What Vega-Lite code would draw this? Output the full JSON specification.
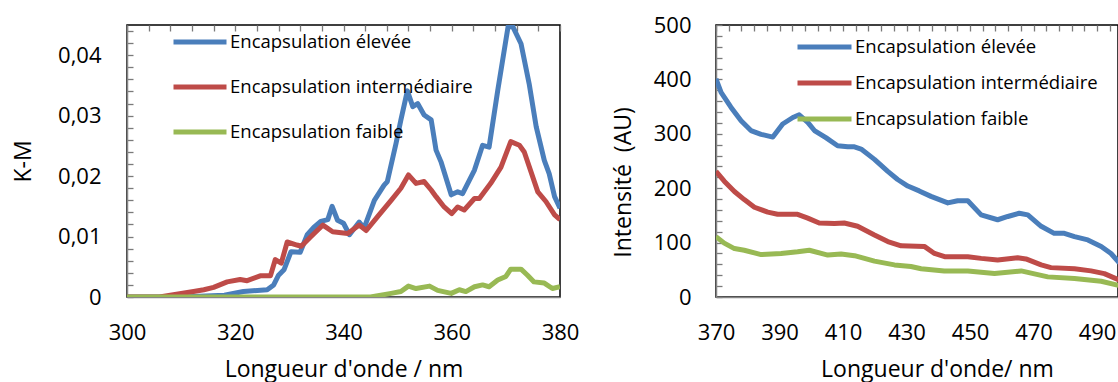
{
  "$schema": "https://vega.github.io/schema/vega-lite/v6.json",
  "padding": {"left": 11, "top": 13, "right": 0, "bottom": 0},
  "bounds": "flush",
  "spacing": 156,
  "config": {
    "font": "Open Sans",
    "view": {"stroke": "black", "strokeWidth": 1.5},
    "axis": {
      "grid": true,
      "gridColor": "#7A7A7A",
      "gridWidth": 1.3,
      "gridDash": [6, 2000],
      "gridOpacity": 1,
      "ticks": false,
      "domainColor": "#868686",
      "domainWidth": 1.5,
      "labelColor": "black",
      "labelFontSize": 22,
      "titleFontSize": 23,
      "titleFontWeight": "normal",
      "titleColor": "black",
      "labelOverlap": false,
      "labelBound": false,
      "labelFlush": false,
      "zindex": 1
    },
    "legend": {
      "orient": "none",
      "symbolType": "stroke",
      "symbolStrokeWidth": 5,
      "labelFontSize": 18.5,
      "labelColor": "black",
      "labelOffset": 1,
      "labelLimit": 400,
      "clipHeight": 20,
      "padding": 0
    }
  },
  "resolve": {"scale": {"color": "independent"}, "legend": {"color": "independent"}},
  "datasets": {
    "left": [
      {"nm": 300, "v": 0, "s": "Encapsulation élevée"},
      {"nm": 310, "v": 0, "s": "Encapsulation élevée"},
      {"nm": 318, "v": 0.0003, "s": "Encapsulation élevée"},
      {"nm": 321.5, "v": 0.0009, "s": "Encapsulation élevée"},
      {"nm": 325.9, "v": 0.0012, "s": "Encapsulation élevée"},
      {"nm": 327.1, "v": 0.002, "s": "Encapsulation élevée"},
      {"nm": 328, "v": 0.0036, "s": "Encapsulation élevée"},
      {"nm": 329, "v": 0.0045, "s": "Encapsulation élevée"},
      {"nm": 330.3, "v": 0.0075, "s": "Encapsulation élevée"},
      {"nm": 332, "v": 0.0074, "s": "Encapsulation élevée"},
      {"nm": 333.3, "v": 0.0103, "s": "Encapsulation élevée"},
      {"nm": 334.5, "v": 0.0115, "s": "Encapsulation élevée"},
      {"nm": 335.8, "v": 0.0125, "s": "Encapsulation élevée"},
      {"nm": 337.1, "v": 0.0128, "s": "Encapsulation élevée"},
      {"nm": 337.9, "v": 0.015, "s": "Encapsulation élevée"},
      {"nm": 338.9, "v": 0.0127, "s": "Encapsulation élevée"},
      {"nm": 340, "v": 0.0122, "s": "Encapsulation élevée"},
      {"nm": 341.1, "v": 0.0103, "s": "Encapsulation élevée"},
      {"nm": 342.9, "v": 0.0124, "s": "Encapsulation élevée"},
      {"nm": 343.8, "v": 0.0114, "s": "Encapsulation élevée"},
      {"nm": 345.7, "v": 0.016, "s": "Encapsulation élevée"},
      {"nm": 347.5, "v": 0.0185, "s": "Encapsulation élevée"},
      {"nm": 348.1, "v": 0.0191, "s": "Encapsulation élevée"},
      {"nm": 349.7, "v": 0.0254, "s": "Encapsulation élevée"},
      {"nm": 350.6, "v": 0.0293, "s": "Encapsulation élevée"},
      {"nm": 351.8, "v": 0.0341, "s": "Encapsulation élevée"},
      {"nm": 352.8, "v": 0.0315, "s": "Encapsulation élevée"},
      {"nm": 353.7, "v": 0.032, "s": "Encapsulation élevée"},
      {"nm": 354.9, "v": 0.0301, "s": "Encapsulation élevée"},
      {"nm": 356.2, "v": 0.0293, "s": "Encapsulation élevée"},
      {"nm": 357.1, "v": 0.0243, "s": "Encapsulation élevée"},
      {"nm": 358, "v": 0.0224, "s": "Encapsulation élevée"},
      {"nm": 359.9, "v": 0.0169, "s": "Encapsulation élevée"},
      {"nm": 361.1, "v": 0.0174, "s": "Encapsulation élevée"},
      {"nm": 362, "v": 0.0171, "s": "Encapsulation élevée"},
      {"nm": 364.2, "v": 0.021, "s": "Encapsulation élevée"},
      {"nm": 365.7, "v": 0.0251, "s": "Encapsulation élevée"},
      {"nm": 366.9, "v": 0.0248, "s": "Encapsulation élevée"},
      {"nm": 368.5, "v": 0.0342, "s": "Encapsulation élevée"},
      {"nm": 370.4, "v": 0.0447, "s": "Encapsulation élevée"},
      {"nm": 371.3, "v": 0.0447, "s": "Encapsulation élevée"},
      {"nm": 372.8, "v": 0.0419, "s": "Encapsulation élevée"},
      {"nm": 374.3, "v": 0.0353, "s": "Encapsulation élevée"},
      {"nm": 375.6, "v": 0.0282, "s": "Encapsulation élevée"},
      {"nm": 377.1, "v": 0.0226, "s": "Encapsulation élevée"},
      {"nm": 378, "v": 0.0204, "s": "Encapsulation élevée"},
      {"nm": 379, "v": 0.0166, "s": "Encapsulation élevée"},
      {"nm": 380, "v": 0.0147, "s": "Encapsulation élevée"},
      {"nm": 300, "v": 0, "s": "Encapsulation intermédiaire"},
      {"nm": 306, "v": 0, "s": "Encapsulation intermédiaire"},
      {"nm": 308, "v": 0.0003, "s": "Encapsulation intermédiaire"},
      {"nm": 312.3, "v": 0.0009, "s": "Encapsulation intermédiaire"},
      {"nm": 314.2, "v": 0.0012, "s": "Encapsulation intermédiaire"},
      {"nm": 316, "v": 0.0016, "s": "Encapsulation intermédiaire"},
      {"nm": 318.5, "v": 0.0025, "s": "Encapsulation intermédiaire"},
      {"nm": 320.9, "v": 0.0029, "s": "Encapsulation intermédiaire"},
      {"nm": 322.2, "v": 0.0027, "s": "Encapsulation intermédiaire"},
      {"nm": 324.6, "v": 0.0035, "s": "Encapsulation intermédiaire"},
      {"nm": 326.5, "v": 0.0035, "s": "Encapsulation intermédiaire"},
      {"nm": 327.4, "v": 0.0062, "s": "Encapsulation intermédiaire"},
      {"nm": 328.5, "v": 0.0056, "s": "Encapsulation intermédiaire"},
      {"nm": 329.6, "v": 0.0091, "s": "Encapsulation intermédiaire"},
      {"nm": 331.4, "v": 0.0086, "s": "Encapsulation intermédiaire"},
      {"nm": 332.2, "v": 0.0084, "s": "Encapsulation intermédiaire"},
      {"nm": 334, "v": 0.01, "s": "Encapsulation intermédiaire"},
      {"nm": 336.2, "v": 0.0119, "s": "Encapsulation intermédiaire"},
      {"nm": 338, "v": 0.0108, "s": "Encapsulation intermédiaire"},
      {"nm": 340.8, "v": 0.0105, "s": "Encapsulation intermédiaire"},
      {"nm": 342.9, "v": 0.0119, "s": "Encapsulation intermédiaire"},
      {"nm": 344.2, "v": 0.011, "s": "Encapsulation intermédiaire"},
      {"nm": 346.3, "v": 0.0133, "s": "Encapsulation intermédiaire"},
      {"nm": 348.8, "v": 0.016, "s": "Encapsulation intermédiaire"},
      {"nm": 350.6, "v": 0.018, "s": "Encapsulation intermédiaire"},
      {"nm": 352, "v": 0.0202, "s": "Encapsulation intermédiaire"},
      {"nm": 353.4, "v": 0.0188, "s": "Encapsulation intermédiaire"},
      {"nm": 354.9, "v": 0.0191, "s": "Encapsulation intermédiaire"},
      {"nm": 356.2, "v": 0.0177, "s": "Encapsulation intermédiaire"},
      {"nm": 357.1, "v": 0.0166, "s": "Encapsulation intermédiaire"},
      {"nm": 358.6, "v": 0.0149, "s": "Encapsulation intermédiaire"},
      {"nm": 360, "v": 0.0138, "s": "Encapsulation intermédiaire"},
      {"nm": 361.1, "v": 0.0149, "s": "Encapsulation intermédiaire"},
      {"nm": 362.3, "v": 0.0144, "s": "Encapsulation intermédiaire"},
      {"nm": 364.2, "v": 0.0163, "s": "Encapsulation intermédiaire"},
      {"nm": 365.1, "v": 0.0163, "s": "Encapsulation intermédiaire"},
      {"nm": 367.2, "v": 0.0188, "s": "Encapsulation intermédiaire"},
      {"nm": 369.1, "v": 0.0215, "s": "Encapsulation intermédiaire"},
      {"nm": 370.9, "v": 0.0257, "s": "Encapsulation intermédiaire"},
      {"nm": 372.5, "v": 0.0251, "s": "Encapsulation intermédiaire"},
      {"nm": 373.4, "v": 0.024, "s": "Encapsulation intermédiaire"},
      {"nm": 375.9, "v": 0.0174, "s": "Encapsulation intermédiaire"},
      {"nm": 377.4, "v": 0.0158, "s": "Encapsulation intermédiaire"},
      {"nm": 379, "v": 0.0136, "s": "Encapsulation intermédiaire"},
      {"nm": 380, "v": 0.0128, "s": "Encapsulation intermédiaire"},
      {"nm": 300, "v": 0, "s": "Encapsulation faible"},
      {"nm": 345, "v": 0, "s": "Encapsulation faible"},
      {"nm": 348.8, "v": 0.0006, "s": "Encapsulation faible"},
      {"nm": 350.6, "v": 0.0009, "s": "Encapsulation faible"},
      {"nm": 352, "v": 0.0018, "s": "Encapsulation faible"},
      {"nm": 353.4, "v": 0.0014, "s": "Encapsulation faible"},
      {"nm": 355.9, "v": 0.0018, "s": "Encapsulation faible"},
      {"nm": 357.4, "v": 0.0011, "s": "Encapsulation faible"},
      {"nm": 359.9, "v": 0.0006, "s": "Encapsulation faible"},
      {"nm": 361.4, "v": 0.0012, "s": "Encapsulation faible"},
      {"nm": 362.6, "v": 0.0009, "s": "Encapsulation faible"},
      {"nm": 364.2, "v": 0.0017, "s": "Encapsulation faible"},
      {"nm": 365.7, "v": 0.002, "s": "Encapsulation faible"},
      {"nm": 366.9, "v": 0.0017, "s": "Encapsulation faible"},
      {"nm": 368.5, "v": 0.0028, "s": "Encapsulation faible"},
      {"nm": 370, "v": 0.0034, "s": "Encapsulation faible"},
      {"nm": 370.9, "v": 0.0046, "s": "Encapsulation faible"},
      {"nm": 372.8, "v": 0.0046, "s": "Encapsulation faible"},
      {"nm": 374, "v": 0.0036, "s": "Encapsulation faible"},
      {"nm": 375.2, "v": 0.0025, "s": "Encapsulation faible"},
      {"nm": 377.1, "v": 0.0023, "s": "Encapsulation faible"},
      {"nm": 378.6, "v": 0.0014, "s": "Encapsulation faible"},
      {"nm": 380, "v": 0.0017, "s": "Encapsulation faible"}
    ],
    "right": [
      {"nm": 370, "v": 401, "s": "Encapsulation élevée"},
      {"nm": 371.6, "v": 376, "s": "Encapsulation élevée"},
      {"nm": 374.7, "v": 349, "s": "Encapsulation élevée"},
      {"nm": 377.9, "v": 324, "s": "Encapsulation élevée"},
      {"nm": 381, "v": 306, "s": "Encapsulation élevée"},
      {"nm": 384.2, "v": 299, "s": "Encapsulation élevée"},
      {"nm": 387.9, "v": 294, "s": "Encapsulation élevée"},
      {"nm": 391, "v": 318, "s": "Encapsulation élevée"},
      {"nm": 394.2, "v": 330, "s": "Encapsulation élevée"},
      {"nm": 396.2, "v": 335, "s": "Encapsulation élevée"},
      {"nm": 398.9, "v": 321, "s": "Encapsulation élevée"},
      {"nm": 401, "v": 306, "s": "Encapsulation élevée"},
      {"nm": 404.6, "v": 293, "s": "Encapsulation élevée"},
      {"nm": 408.3, "v": 278, "s": "Encapsulation élevée"},
      {"nm": 411.5, "v": 276, "s": "Encapsulation élevée"},
      {"nm": 413.6, "v": 276, "s": "Encapsulation élevée"},
      {"nm": 415.7, "v": 272, "s": "Encapsulation élevée"},
      {"nm": 419.9, "v": 253, "s": "Encapsulation élevée"},
      {"nm": 424.1, "v": 231, "s": "Encapsulation élevée"},
      {"nm": 427.2, "v": 216, "s": "Encapsulation élevée"},
      {"nm": 430.4, "v": 204, "s": "Encapsulation élevée"},
      {"nm": 434, "v": 195, "s": "Encapsulation élevée"},
      {"nm": 437.7, "v": 185, "s": "Encapsulation élevée"},
      {"nm": 443, "v": 173, "s": "Encapsulation élevée"},
      {"nm": 446.1, "v": 177, "s": "Encapsulation élevée"},
      {"nm": 449.3, "v": 177, "s": "Encapsulation élevée"},
      {"nm": 453.5, "v": 151, "s": "Encapsulation élevée"},
      {"nm": 458.7, "v": 142, "s": "Encapsulation élevée"},
      {"nm": 461.9, "v": 148, "s": "Encapsulation élevée"},
      {"nm": 465.5, "v": 154, "s": "Encapsulation élevée"},
      {"nm": 468.2, "v": 151, "s": "Encapsulation élevée"},
      {"nm": 472.4, "v": 130, "s": "Encapsulation élevée"},
      {"nm": 476.5, "v": 117, "s": "Encapsulation élevée"},
      {"nm": 479.7, "v": 117, "s": "Encapsulation élevée"},
      {"nm": 482.9, "v": 111, "s": "Encapsulation élevée"},
      {"nm": 487.1, "v": 105, "s": "Encapsulation élevée"},
      {"nm": 491.3, "v": 93, "s": "Encapsulation élevée"},
      {"nm": 494.4, "v": 80, "s": "Encapsulation élevée"},
      {"nm": 497, "v": 63, "s": "Encapsulation élevée"},
      {"nm": 370, "v": 231, "s": "Encapsulation intermédiaire"},
      {"nm": 372.6, "v": 213, "s": "Encapsulation intermédiaire"},
      {"nm": 375.8, "v": 194, "s": "Encapsulation intermédiaire"},
      {"nm": 378.9, "v": 179, "s": "Encapsulation intermédiaire"},
      {"nm": 382.1, "v": 165, "s": "Encapsulation intermédiaire"},
      {"nm": 386.3, "v": 156, "s": "Encapsulation intermédiaire"},
      {"nm": 389.4, "v": 152, "s": "Encapsulation intermédiaire"},
      {"nm": 395.7, "v": 152, "s": "Encapsulation intermédiaire"},
      {"nm": 398.9, "v": 145, "s": "Encapsulation intermédiaire"},
      {"nm": 402.5, "v": 136, "s": "Encapsulation intermédiaire"},
      {"nm": 407.3, "v": 135, "s": "Encapsulation intermédiaire"},
      {"nm": 410.4, "v": 136, "s": "Encapsulation intermédiaire"},
      {"nm": 414.6, "v": 130, "s": "Encapsulation intermédiaire"},
      {"nm": 419.9, "v": 114, "s": "Encapsulation intermédiaire"},
      {"nm": 424.1, "v": 102, "s": "Encapsulation intermédiaire"},
      {"nm": 428.3, "v": 94, "s": "Encapsulation intermédiaire"},
      {"nm": 435.6, "v": 93, "s": "Encapsulation intermédiaire"},
      {"nm": 438.8, "v": 80, "s": "Encapsulation intermédiaire"},
      {"nm": 442, "v": 74, "s": "Encapsulation intermédiaire"},
      {"nm": 449.3, "v": 74, "s": "Encapsulation intermédiaire"},
      {"nm": 453.5, "v": 71, "s": "Encapsulation intermédiaire"},
      {"nm": 458.7, "v": 68, "s": "Encapsulation intermédiaire"},
      {"nm": 465, "v": 72, "s": "Encapsulation intermédiaire"},
      {"nm": 467.6, "v": 70, "s": "Encapsulation intermédiaire"},
      {"nm": 472.4, "v": 59, "s": "Encapsulation intermédiaire"},
      {"nm": 475.5, "v": 54, "s": "Encapsulation intermédiaire"},
      {"nm": 482.9, "v": 52, "s": "Encapsulation intermédiaire"},
      {"nm": 488.1, "v": 48, "s": "Encapsulation intermédiaire"},
      {"nm": 492.3, "v": 43, "s": "Encapsulation intermédiaire"},
      {"nm": 497, "v": 31, "s": "Encapsulation intermédiaire"},
      {"nm": 370, "v": 111, "s": "Encapsulation faible"},
      {"nm": 372.6, "v": 99, "s": "Encapsulation faible"},
      {"nm": 375.8, "v": 89, "s": "Encapsulation faible"},
      {"nm": 378.9, "v": 86, "s": "Encapsulation faible"},
      {"nm": 384.2, "v": 78, "s": "Encapsulation faible"},
      {"nm": 390.5, "v": 80, "s": "Encapsulation faible"},
      {"nm": 395.7, "v": 83, "s": "Encapsulation faible"},
      {"nm": 399.4, "v": 86, "s": "Encapsulation faible"},
      {"nm": 405.2, "v": 77, "s": "Encapsulation faible"},
      {"nm": 409.4, "v": 79, "s": "Encapsulation faible"},
      {"nm": 413.6, "v": 76, "s": "Encapsulation faible"},
      {"nm": 419.9, "v": 66, "s": "Encapsulation faible"},
      {"nm": 426.2, "v": 59, "s": "Encapsulation faible"},
      {"nm": 431.4, "v": 56, "s": "Encapsulation faible"},
      {"nm": 434.6, "v": 52, "s": "Encapsulation faible"},
      {"nm": 441.9, "v": 48, "s": "Encapsulation faible"},
      {"nm": 449.3, "v": 48, "s": "Encapsulation faible"},
      {"nm": 457.7, "v": 43, "s": "Encapsulation faible"},
      {"nm": 466.1, "v": 48, "s": "Encapsulation faible"},
      {"nm": 474.5, "v": 37, "s": "Encapsulation faible"},
      {"nm": 482.9, "v": 34, "s": "Encapsulation faible"},
      {"nm": 491.3, "v": 29, "s": "Encapsulation faible"},
      {"nm": 497, "v": 21, "s": "Encapsulation faible"}
    ]
  },
  "hconcat": [
    {
      "width": 433,
      "height": 272,
      "data": {"name": "left"},
      "mark": {"type": "line", "strokeWidth": 5, "strokeJoin": "round", "clip": true},
      "encoding": {
        "x": {
          "field": "nm", "type": "quantitative",
          "scale": {"domain": [300, 380], "nice": false, "zero": false},
          "axis": {
            "title": "Longueur d'onde / nm",
            "values": [300, 304, 308, 312, 316, 320, 324, 328, 332, 336, 340, 344, 348, 352, 356, 360, 364, 368, 372, 376, 380],
            "labelExpr": "datum.value % 20 == 0 ? datum.label : ''",
            "labelPadding": 25,
            "titleX": 216.5, "titleY": 72, "titleAlign": "center", "titleBaseline": "middle"
          }
        },
        "y": {
          "field": "v", "type": "quantitative",
          "scale": {"domain": [0, 0.045], "nice": false},
          "axis": {
            "title": "K-M",
            "values": [0, 0.002, 0.004, 0.006, 0.008, 0.01, 0.012, 0.014, 0.016, 0.018, 0.02, 0.022, 0.024, 0.026, 0.028, 0.03, 0.032, 0.034, 0.036, 0.038, 0.04, 0.042, 0.044],
            "labelExpr": "abs(datum.value * 100 - round(datum.value * 100)) < 0.000001 ? (datum.value == 0 ? '0' : replace(format(datum.value, '.2f'), '.', ',')) : ''",
            "labelPadding": 26,
            "titleX": -104, "titleY": 136, "titleAlign": "center", "titleBaseline": "middle"
          }
        },
        "color": {
          "field": "s", "type": "nominal",
          "scale": {"domain": ["Encapsulation élevée", "Encapsulation intermédiaire", "Encapsulation faible"], "range": ["#4A7EBB", "#BE4B48", "#98B954"]},
          "legend": {"title": null, "legendX": 44, "legendY": 7, "symbolSize": 2809, "rowPadding": 25}
        }
      }
    },
    {
      "width": 402,
      "height": 272,
      "data": {"name": "right"},
      "mark": {"type": "line", "strokeWidth": 5, "strokeJoin": "round", "clip": true},
      "encoding": {
        "x": {
          "field": "nm", "type": "quantitative",
          "scale": {"domain": [370, 496.6], "nice": false, "zero": false},
          "axis": {
            "title": "Longueur d'onde/ nm",
            "values": [370, 374, 378, 382, 386, 390, 394, 398, 402, 406, 410, 414, 418, 422, 426, 430, 434, 438, 442, 446, 450, 454, 458, 462, 466, 470, 474, 478, 482, 486, 490, 494],
            "labelExpr": "(datum.value - 370) % 20 == 0 ? datum.label : ''",
            "labelPadding": 25,
            "titleX": 221, "titleY": 72, "titleAlign": "center", "titleBaseline": "middle"
          }
        },
        "y": {
          "field": "v", "type": "quantitative",
          "scale": {"domain": [0, 500], "nice": false},
          "axis": {
            "title": "Intensité\u00a0 (AU)",
            "values": [0, 20, 40, 60, 80, 100, 120, 140, 160, 180, 200, 220, 240, 260, 280, 300, 320, 340, 360, 380, 400, 420, 440, 460, 480, 500],
            "labelExpr": "datum.value % 100 == 0 ? datum.label : ''",
            "labelPadding": 25,
            "titleX": -93, "titleY": 157, "titleAlign": "center", "titleBaseline": "middle"
          }
        },
        "color": {
          "field": "s", "type": "nominal",
          "scale": {"domain": ["Encapsulation élevée", "Encapsulation intermédiaire", "Encapsulation faible"], "range": ["#4A7EBB", "#BE4B48", "#98B954"]},
          "legend": {"title": null, "legendX": 79, "legendY": 12, "symbolSize": 2916, "rowPadding": 16}
        }
      }
    }
  ]
}
